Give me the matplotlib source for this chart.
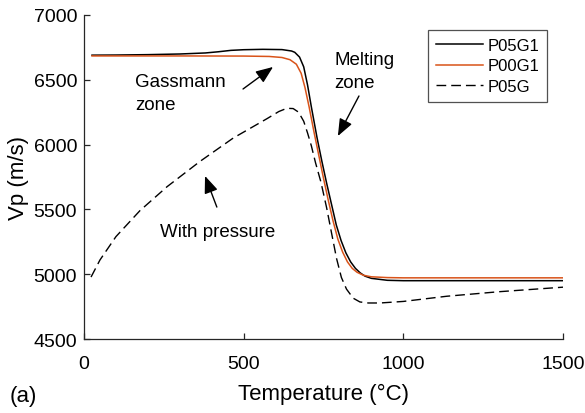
import matplotlib
matplotlib.use("Agg")
import matplotlib.pyplot as plt

plt.rcParams['font.family'] = ['Liberation Sans', 'DejaVu Sans']

# P05G1: Vp vs temperature
t_p05g1 = [25, 100, 200, 300, 380, 420, 460, 500, 560, 620, 650, 660, 675, 688,
           700, 712, 730, 745, 760, 775, 790, 805, 820, 835, 850, 865, 880, 900,
           950, 1000, 1250, 1500]
vp_p05g1 = [6690, 6691, 6694, 6699, 6707, 6716, 6727, 6732, 6735, 6733, 6722, 6712,
            6675, 6600, 6460, 6290, 6050, 5870, 5700, 5540, 5380, 5260, 5165, 5095,
            5045, 5010, 4985, 4968, 4953, 4950, 4950, 4950]

# P00G1
t_p00g1 = [25, 300, 500, 580, 620, 645, 665, 680, 692, 705, 720, 735, 750, 765,
           780, 795, 810, 825, 840, 855, 875, 900, 950, 1000, 1500]
vp_p00g1 = [6684, 6684, 6683, 6680, 6672, 6655, 6620, 6550, 6440, 6290, 6100, 5920,
            5740, 5570, 5410, 5270, 5170, 5095, 5045, 5015, 4992, 4980, 4974, 4972,
            4972]

# P05G (with pressure)
t_p05g = [22, 50, 100, 175, 260, 363, 467, 573, 610, 635, 655, 672, 688, 700, 712,
          725, 742, 760, 775, 791, 806, 822, 843, 864, 890, 927, 1000, 1136, 1300,
          1500]
vp_p05g = [4978, 5110, 5290, 5490, 5675, 5870, 6050, 6200, 6255, 6280, 6278, 6250,
           6180, 6090, 5990, 5860, 5710, 5510, 5320, 5120, 4975, 4885, 4815, 4786,
           4778, 4778, 4790, 4830, 4865, 4900]

fig = plt.figure(figsize=(5.85, 4.14), dpi=100)
ax = fig.add_axes([0.1436, 0.1787, 0.8188, 0.7827])

ax.plot(t_p05g1, vp_p05g1, color='black', lw=1.1, label='P05G1')
ax.plot(t_p00g1, vp_p00g1, color='#D95319', lw=1.1, label='P00G1')
ax.plot(t_p05g, vp_p05g, color='black', lw=1.0, ls=(0, (7, 3.6)), label='P05G')

ax.set_xlim(0, 1500)
ax.set_ylim(4500, 7000)
ax.set_xticks([0, 500, 1000, 1500])
ax.set_yticks([4500, 5000, 5500, 6000, 6500, 7000])
ax.spines['top'].set_visible(False)
ax.spines['right'].set_visible(False)
for s in ('left', 'bottom'):
    ax.spines[s].set_color('#262626')
    ax.spines[s].set_linewidth(0.9)
ax.tick_params(direction='in', length=4, width=0.9, color='#262626',
               labelsize=14)
ax.tick_params(axis='x', pad=11.5)
ax.tick_params(axis='y', pad=5)

ax.set_xlabel('Temperature (°C)', fontsize=16, labelpad=8)
ax.set_ylabel('Vp (m/s)', fontsize=16, labelpad=3)

# annotation arrows
arrow = dict(arrowstyle='-|>,head_length=0.95,head_width=0.38', color='black',
             lw=1.0, mutation_scale=11, shrinkA=0, shrinkB=0)
ax.annotate('', xy=(592, 6599), xytext=(498, 6429), arrowprops=arrow)
ax.annotate('', xy=(795, 6066), xytext=(861, 6375), arrowprops=arrow)
ax.annotate('', xy=(379, 5758), xytext=(416, 5518), arrowprops=arrow)

ax.text(160, 6395, 'Gassmann\nzone', fontsize=13.5, va='center', ha='left',
        linespacing=1.45)
ax.text(783, 6565, 'Melting\nzone', fontsize=13.5, va='center', ha='left',
        linespacing=1.45)
ax.text(238, 5333, 'With pressure', fontsize=13.5, va='center', ha='left')

leg = ax.legend(loc='upper right', bbox_to_anchor=(0.935, 0.925),
                bbox_transform=fig.transFigure, fontsize=12, frameon=True,
                fancybox=False, handlelength=2.8, labelspacing=0.35,
                handletextpad=0.3, borderpad=0.45, borderaxespad=0)
leg.get_frame().set_edgecolor('#262626')
leg.get_frame().set_linewidth(0.9)

fig.text(0.017, 0.043, '(a)', fontsize=16, va='center')

fig.savefig('out.png', dpi=100)
